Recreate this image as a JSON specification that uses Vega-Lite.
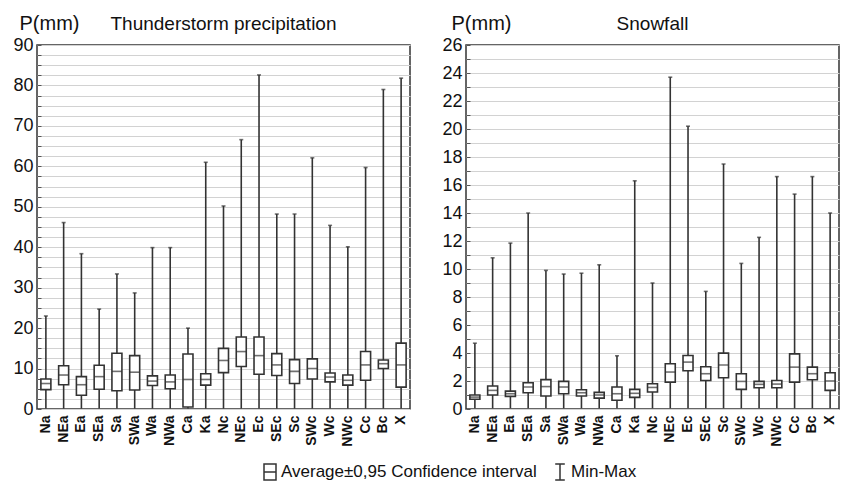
{
  "$schema": "https://vega.github.io/schema/vega-lite/v6.json",
  "padding": {"left": 12, "top": 12, "right": 0, "bottom": 5},
  "background": "white",
  "config": {
    "font": "Liberation Sans",
    "view": {"stroke": "#333", "strokeWidth": 1.5},
    "axis": {"labelFont": "Liberation Sans", "titleFont": "Liberation Sans", "labelColor": "#111", "titleColor": "#111", "labelOverlap": false},
    "title": {"font": "Liberation Sans", "fontSize": 19, "fontWeight": "normal", "color": "#111", "offset": -21}
  },
  "spacing": 30,
  "datasets": {
    "thunder": [
      {"cat": "Na", "min": 0.1, "low": 4.8, "mean": 6.3, "high": 7.4, "max": 23.0},
      {"cat": "NEa", "min": 0.1, "low": 6.0, "mean": 8.4, "high": 10.7, "max": 46.1},
      {"cat": "Ea", "min": 0.1, "low": 3.4, "mean": 6.0, "high": 8.0, "max": 38.4},
      {"cat": "SEa", "min": 0.1, "low": 4.9, "mean": 8.0, "high": 10.8, "max": 24.7},
      {"cat": "Sa", "min": 0.1, "low": 4.5, "mean": 9.3, "high": 13.8, "max": 33.4},
      {"cat": "SWa", "min": 0.1, "low": 4.7, "mean": 9.1, "high": 13.2, "max": 28.7},
      {"cat": "Wa", "min": 0.1, "low": 5.8, "mean": 6.9, "high": 8.2, "max": 39.9},
      {"cat": "NWa", "min": 0.1, "low": 5.0, "mean": 6.7, "high": 8.4, "max": 39.9},
      {"cat": "Ca", "min": 0.1, "low": 0.5, "mean": 7.3, "high": 13.6, "max": 20.0},
      {"cat": "Ka", "min": 0.1, "low": 5.9, "mean": 7.3, "high": 8.7, "max": 61.0},
      {"cat": "Nc", "min": 0.1, "low": 9.0, "mean": 12.0, "high": 15.0, "max": 50.2},
      {"cat": "NEc", "min": 0.1, "low": 10.5, "mean": 14.2, "high": 17.8, "max": 66.6},
      {"cat": "Ec", "min": 0.1, "low": 8.6, "mean": 13.2, "high": 17.8, "max": 82.6},
      {"cat": "SEc", "min": 0.1, "low": 8.3, "mean": 10.9, "high": 13.7, "max": 48.2},
      {"cat": "Sc", "min": 0.1, "low": 6.3, "mean": 9.3, "high": 12.2, "max": 48.2},
      {"cat": "SWc", "min": 0.1, "low": 7.4, "mean": 10.0, "high": 12.4, "max": 62.1},
      {"cat": "Wc", "min": 0.1, "low": 6.7, "mean": 7.9, "high": 8.9, "max": 45.4},
      {"cat": "NWc", "min": 0.1, "low": 5.9, "mean": 7.1, "high": 8.4, "max": 40.1},
      {"cat": "Cc", "min": 0.1, "low": 7.1, "mean": 10.9, "high": 14.2, "max": 59.7},
      {"cat": "Bc", "min": 0.1, "low": 10.0, "mean": 11.2, "high": 12.1, "max": 79.0},
      {"cat": "X", "min": 0.1, "low": 5.4, "mean": 10.9, "high": 16.3, "max": 81.8}
    ],
    "snow": [
      {"cat": "Na", "min": 0.05, "low": 0.7, "mean": 0.85, "high": 1.0, "max": 4.7},
      {"cat": "NEa", "min": 0.05, "low": 1.0, "mean": 1.33, "high": 1.64, "max": 10.8},
      {"cat": "Ea", "min": 0.05, "low": 0.9, "mean": 1.09, "high": 1.28, "max": 11.85},
      {"cat": "SEa", "min": 0.05, "low": 1.16, "mean": 1.57, "high": 1.88, "max": 14.0},
      {"cat": "Sa", "min": 0.05, "low": 0.93, "mean": 1.6, "high": 2.1, "max": 9.9},
      {"cat": "SWa", "min": 0.05, "low": 1.09, "mean": 1.57, "high": 1.97, "max": 9.64},
      {"cat": "Wa", "min": 0.05, "low": 0.93, "mean": 1.16, "high": 1.38, "max": 9.7},
      {"cat": "NWa", "min": 0.05, "low": 0.78, "mean": 1.0, "high": 1.19, "max": 10.3},
      {"cat": "Ca", "min": 0.05, "low": 0.62, "mean": 1.09, "high": 1.57, "max": 3.8},
      {"cat": "Ka", "min": 0.05, "low": 0.83, "mean": 1.12, "high": 1.4, "max": 16.3},
      {"cat": "Nc", "min": 0.05, "low": 1.21, "mean": 1.54, "high": 1.8, "max": 9.0},
      {"cat": "NEc", "min": 0.05, "low": 1.92, "mean": 2.64, "high": 3.23, "max": 23.7},
      {"cat": "Ec", "min": 0.05, "low": 2.73, "mean": 3.35, "high": 3.82, "max": 20.2},
      {"cat": "SEc", "min": 0.05, "low": 2.04, "mean": 2.52, "high": 3.02, "max": 8.4},
      {"cat": "Sc", "min": 0.05, "low": 2.23, "mean": 3.14, "high": 3.99, "max": 17.5},
      {"cat": "SWc", "min": 0.05, "low": 1.4, "mean": 1.97, "high": 2.52, "max": 10.4},
      {"cat": "Wc", "min": 0.05, "low": 1.52, "mean": 1.76, "high": 1.97, "max": 12.26},
      {"cat": "NWc", "min": 0.05, "low": 1.52, "mean": 1.78, "high": 2.04, "max": 16.6},
      {"cat": "Cc", "min": 0.05, "low": 1.92, "mean": 2.99, "high": 3.94, "max": 15.35},
      {"cat": "Bc", "min": 0.05, "low": 2.09, "mean": 2.52, "high": 2.99, "max": 16.6},
      {"cat": "X", "min": 0.05, "low": 1.33, "mean": 2.0, "high": 2.59, "max": 14.0}
    ],
    "legendItems": [
      {"item": "Average±0,95 Confidence interval"},
      {"item": "Min-Max"}
    ]
  },
  "hconcat": [
    {
      "width": 373,
      "height": 364,
      "title": {"text": "Thunderstorm precipitation", "anchor": "middle"},
      "layer": [
        {
          "data": {"name": "thunder"},
          "mark": {"type": "rule", "color": "#333", "strokeWidth": 1.6},
          "encoding": {
            "x": {"field": "cat", "type": "nominal", "sort": null, "scale": {"type": "band", "paddingInner": 0, "paddingOuter": 0},
              "axis": {"title": null, "labelAngle": -90, "labelFontSize": 14, "labelFontWeight": "bold", "ticks": false, "domain": false, "labelPadding": 6}},
            "y": {"field": "min", "type": "quantitative", "scale": {"domain": [0, 90], "nice": false, "zero": true},
              "axis": {"title": "P(mm)", "titleAngle": 0, "titleAlign": "left", "titleBaseline": "alphabetic", "titleX": -18, "titleY": -16, "titleFontSize": 20, "titleFontWeight": "normal",
                "values": [0,2.5,5,7.5,10,12.5,15,17.5,20,22.5,25,27.5,30,32.5,35,37.5,40,42.5,45,47.5,50,52.5,55,57.5,60,62.5,65,67.5,70,72.5,75,77.5,80,82.5,85,87.5,90],
                "labelExpr": "datum.value % 10 === 0 ? datum.label : ''", "labelOverlap": false,
                "labelFontSize": 18, "tickSize": -4, "tickColor": "#555", "labelPadding": 8, "domain": false,
                "grid": true, "gridColor": "#d2d2d2", "gridWidth": 1}},
            "y2": {"field": "max"}
          }
        },
        {
          "data": {"name": "thunder"},
          "mark": {"type": "tick", "color": "#333", "size": 4, "thickness": 1.6},
          "encoding": {
            "x": {"field": "cat", "type": "nominal", "sort": null},
            "y": {"field": "max", "type": "quantitative",
              "axis": {"title": "P(mm)", "titleAngle": 0, "titleAlign": "left", "titleBaseline": "alphabetic", "titleX": -18, "titleY": -16, "titleFontSize": 20, "titleFontWeight": "normal",
                "values": [0,2.5,5,7.5,10,12.5,15,17.5,20,22.5,25,27.5,30,32.5,35,37.5,40,42.5,45,47.5,50,52.5,55,57.5,60,62.5,65,67.5,70,72.5,75,77.5,80,82.5,85,87.5,90],
                "labelExpr": "datum.value % 10 === 0 ? datum.label : ''", "labelOverlap": false,
                "labelFontSize": 18, "tickSize": -4, "tickColor": "#555", "labelPadding": 8, "domain": false,
                "grid": true, "gridColor": "#d2d2d2", "gridWidth": 1}}
          }
        },
        {
          "data": {"name": "thunder"},
          "mark": {"type": "bar", "fill": "white", "stroke": "#333", "strokeWidth": 1.6, "width": 10},
          "encoding": {
            "x": {"field": "cat", "type": "nominal", "sort": null},
            "y": {"field": "low", "type": "quantitative",
              "axis": {"title": "P(mm)", "titleAngle": 0, "titleAlign": "left", "titleBaseline": "alphabetic", "titleX": -18, "titleY": -16, "titleFontSize": 20, "titleFontWeight": "normal",
                "values": [0,2.5,5,7.5,10,12.5,15,17.5,20,22.5,25,27.5,30,32.5,35,37.5,40,42.5,45,47.5,50,52.5,55,57.5,60,62.5,65,67.5,70,72.5,75,77.5,80,82.5,85,87.5,90],
                "labelExpr": "datum.value % 10 === 0 ? datum.label : ''", "labelOverlap": false,
                "labelFontSize": 18, "tickSize": -4, "tickColor": "#555", "labelPadding": 8, "domain": false,
                "grid": true, "gridColor": "#d2d2d2", "gridWidth": 1}},
            "y2": {"field": "high"}
          }
        },
        {
          "data": {"name": "thunder"},
          "mark": {"type": "tick", "color": "#333", "size": 10, "thickness": 1.6},
          "encoding": {
            "x": {"field": "cat", "type": "nominal", "sort": null},
            "y": {"field": "mean", "type": "quantitative",
              "axis": {"title": "P(mm)", "titleAngle": 0, "titleAlign": "left", "titleBaseline": "alphabetic", "titleX": -18, "titleY": -16, "titleFontSize": 20, "titleFontWeight": "normal",
                "values": [0,2.5,5,7.5,10,12.5,15,17.5,20,22.5,25,27.5,30,32.5,35,37.5,40,42.5,45,47.5,50,52.5,55,57.5,60,62.5,65,67.5,70,72.5,75,77.5,80,82.5,85,87.5,90],
                "labelExpr": "datum.value % 10 === 0 ? datum.label : ''", "labelOverlap": false,
                "labelFontSize": 18, "tickSize": -4, "tickColor": "#555", "labelPadding": 8, "domain": false,
                "grid": true, "gridColor": "#d2d2d2", "gridWidth": 1}}
          }
        },
        {
          "data": {"name": "legendItems"},
          "mark": {"type": "point", "opacity": 0, "size": 0, "color": "#333", "filled": false},
          "encoding": {
            "shape": {"field": "item", "type": "nominal",
              "scale": {"range": ["M-0.75,-1H0.75V1H-0.75Z M-0.75,0H0.75", "M-0.6,-1H0.6 M0,-1V1 M-0.6,1H0.6"]},
              "legend": {"title": null, "orient": "none", "direction": "horizontal", "legendX": 224, "legendY": 418,
                "labelFontSize": 17, "labelFont": "Liberation Sans", "labelColor": "#111", "labelLimit": 0, "symbolSize": 256, "columnPadding": 14, "labelOffset": 2,
                "symbolStrokeColor": "#333", "symbolFillColor": "white", "symbolStrokeWidth": 1.5, "symbolOpacity": 1,
                "encode": {"symbols": {"update": {"fill": {"value": "white"}, "stroke": {"value": "#333"}, "strokeWidth": {"value": 1.5}, "opacity": {"value": 1}}}}}}
          }
        }
      ]
    },
    {
      "width": 373,
      "height": 364,
      "title": {"text": "Snowfall", "anchor": "middle"},
      "layer": [
        {
          "data": {"name": "snow"},
          "mark": {"type": "rule", "color": "#333", "strokeWidth": 1.6},
          "encoding": {
            "x": {"field": "cat", "type": "nominal", "sort": null, "scale": {"type": "band", "paddingInner": 0, "paddingOuter": 0},
              "axis": {"title": null, "labelAngle": -90, "labelFontSize": 14, "labelFontWeight": "bold", "ticks": false, "domain": false, "labelPadding": 6}},
            "y": {"field": "min", "type": "quantitative", "scale": {"domain": [0, 26], "nice": false, "zero": true},
              "axis": {"title": "P(mm)", "titleAngle": 0, "titleAlign": "left", "titleBaseline": "alphabetic", "titleX": -15, "titleY": -16, "titleFontSize": 20, "titleFontWeight": "normal",
                "values": [0,1,2,3,4,5,6,7,8,9,10,11,12,13,14,15,16,17,18,19,20,21,22,23,24,25,26],
                "labelExpr": "datum.value % 2 === 0 ? datum.label : ''", "labelOverlap": false,
                "labelFontSize": 18, "tickSize": -4, "tickColor": "#555", "labelPadding": 8, "domain": false,
                "grid": true, "gridColor": "#d2d2d2", "gridWidth": 1}},
            "y2": {"field": "max"}
          }
        },
        {
          "data": {"name": "snow"},
          "mark": {"type": "tick", "color": "#333", "size": 4, "thickness": 1.6},
          "encoding": {
            "x": {"field": "cat", "type": "nominal", "sort": null},
            "y": {"field": "max", "type": "quantitative",
              "axis": {"title": "P(mm)", "titleAngle": 0, "titleAlign": "left", "titleBaseline": "alphabetic", "titleX": -15, "titleY": -16, "titleFontSize": 20, "titleFontWeight": "normal",
                "values": [0,1,2,3,4,5,6,7,8,9,10,11,12,13,14,15,16,17,18,19,20,21,22,23,24,25,26],
                "labelExpr": "datum.value % 2 === 0 ? datum.label : ''", "labelOverlap": false,
                "labelFontSize": 18, "tickSize": -4, "tickColor": "#555", "labelPadding": 8, "domain": false,
                "grid": true, "gridColor": "#d2d2d2", "gridWidth": 1}}
          }
        },
        {
          "data": {"name": "snow"},
          "mark": {"type": "bar", "fill": "white", "stroke": "#333", "strokeWidth": 1.6, "width": 10},
          "encoding": {
            "x": {"field": "cat", "type": "nominal", "sort": null},
            "y": {"field": "low", "type": "quantitative",
              "axis": {"title": "P(mm)", "titleAngle": 0, "titleAlign": "left", "titleBaseline": "alphabetic", "titleX": -15, "titleY": -16, "titleFontSize": 20, "titleFontWeight": "normal",
                "values": [0,1,2,3,4,5,6,7,8,9,10,11,12,13,14,15,16,17,18,19,20,21,22,23,24,25,26],
                "labelExpr": "datum.value % 2 === 0 ? datum.label : ''", "labelOverlap": false,
                "labelFontSize": 18, "tickSize": -4, "tickColor": "#555", "labelPadding": 8, "domain": false,
                "grid": true, "gridColor": "#d2d2d2", "gridWidth": 1}},
            "y2": {"field": "high"}
          }
        },
        {
          "data": {"name": "snow"},
          "mark": {"type": "tick", "color": "#333", "size": 10, "thickness": 1.6},
          "encoding": {
            "x": {"field": "cat", "type": "nominal", "sort": null},
            "y": {"field": "mean", "type": "quantitative",
              "axis": {"title": "P(mm)", "titleAngle": 0, "titleAlign": "left", "titleBaseline": "alphabetic", "titleX": -15, "titleY": -16, "titleFontSize": 20, "titleFontWeight": "normal",
                "values": [0,1,2,3,4,5,6,7,8,9,10,11,12,13,14,15,16,17,18,19,20,21,22,23,24,25,26],
                "labelExpr": "datum.value % 2 === 0 ? datum.label : ''", "labelOverlap": false,
                "labelFontSize": 18, "tickSize": -4, "tickColor": "#555", "labelPadding": 8, "domain": false,
                "grid": true, "gridColor": "#d2d2d2", "gridWidth": 1}}
          }
        }
      ]
    }
  ]
}
